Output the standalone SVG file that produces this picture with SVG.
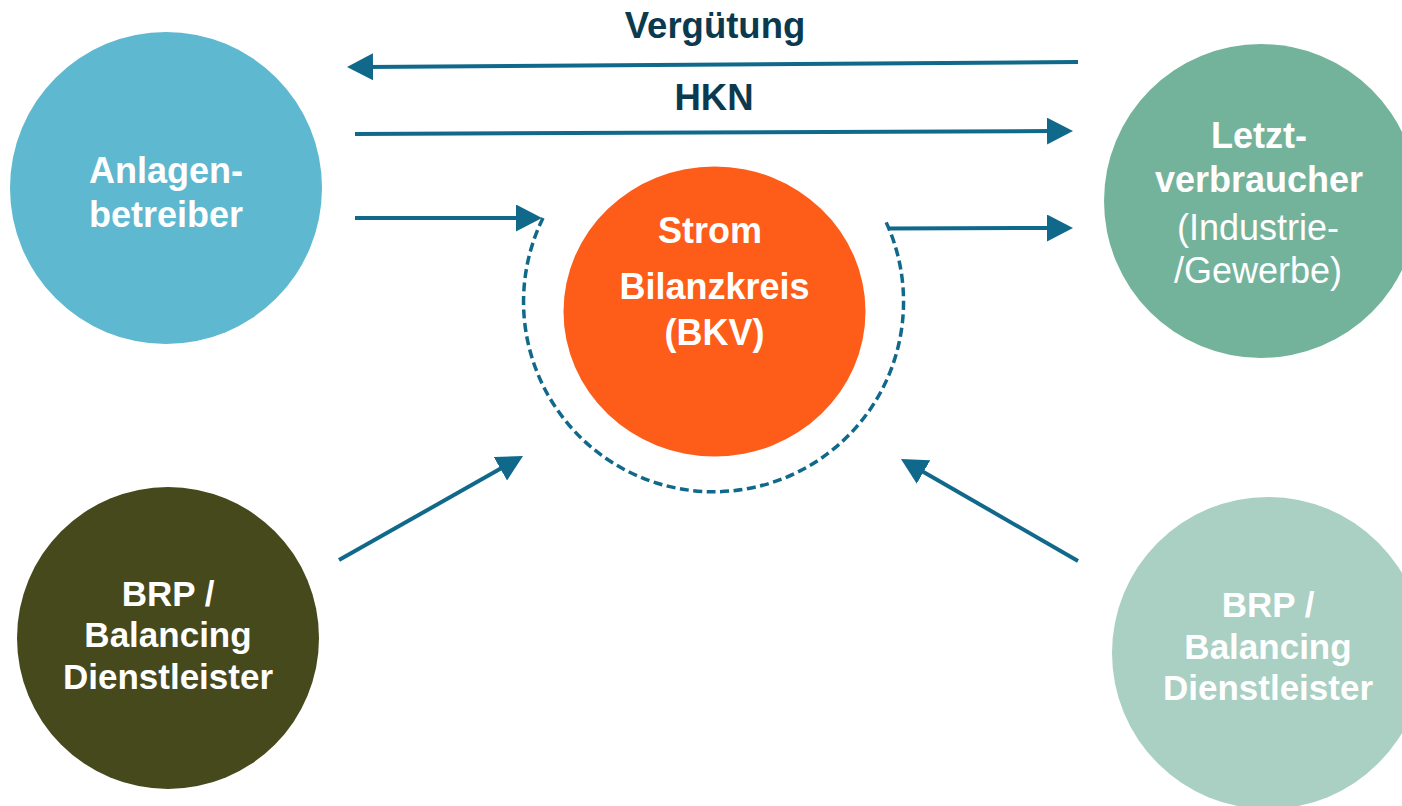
<svg xmlns="http://www.w3.org/2000/svg" width="1402" height="806" viewBox="0 0 1402 806">
  <style>
    .lbl { font-family: "Liberation Sans", Arial, sans-serif; font-size: 36px; fill: #ffffff; text-anchor: middle; }
    .b { font-weight: bold; }
    .sm { font-size: 35px; }
    .top { font-family: "Liberation Sans", Arial, sans-serif; font-size: 36.5px; font-weight: bold; fill: #0b3a4e; text-anchor: middle; }
    .arr { stroke: #10698a; stroke-width: 4; fill: none; marker-end: url(#head); }
  </style>
  <defs>
    <marker id="head" markerUnits="userSpaceOnUse" markerWidth="26" markerHeight="27" refX="6" refY="13.5" orient="auto" viewBox="0 0 26 27">
      <path d="M0,0 L26,13.5 L0,27 Z" fill="#10698a"/>
    </marker>
  </defs>
  <rect width="1402" height="806" fill="#ffffff"/>

  <g id="anlagenbetreiber">
    <circle cx="166" cy="188" r="156" fill="#5eb8cf"/>
    <text class="lbl b" x="166" y="183">Anlagen-</text>
    <text class="lbl b" x="166" y="227">betreiber</text>
  </g>

  <g id="letztverbraucher">
    <circle cx="1261" cy="201" r="157" fill="#74b39b"/>
    <text class="lbl b" x="1259" y="148">Letzt-</text>
    <text class="lbl b" x="1259" y="192">verbraucher</text>
    <text class="lbl" x="1258" y="240">(Industrie-</text>
    <text class="lbl" x="1258" y="283">/Gewerbe)</text>
  </g>

  <g id="strom-bilanzkreis">
    <ellipse cx="714.5" cy="311.5" rx="151" ry="145" fill="#fd5c19"/>
    <text class="lbl b" x="710" y="243">Strom</text>
    <text class="lbl b" x="714.5" y="299">Bilanzkreis</text>
    <text class="lbl b" x="714.5" y="345">(BKV)</text>
  </g>

  <g id="brp-left">
    <circle cx="168" cy="638" r="151" fill="#45491c"/>
    <text class="lbl b sm" x="168" y="606">BRP /</text>
    <text class="lbl b sm" x="168" y="647">Balancing</text>
    <text class="lbl b sm" x="168" y="689">Dienstleister</text>
  </g>

  <g id="brp-right">
    <circle cx="1268" cy="653" r="156" fill="#a9d0c3"/>
    <text class="lbl b sm" x="1268" y="617">BRP /</text>
    <text class="lbl b sm" x="1268" y="659">Balancing</text>
    <text class="lbl b sm" x="1268" y="700">Dienstleister</text>
  </g>

  <g id="connectors">
    <path d="M543,218 A190,190 0 1 0 886,222" fill="none" stroke="#10698a" stroke-width="3.5" stroke-dasharray="9,4.5"/>
    <line class="arr" x1="1078" y1="62" x2="367" y2="66.9"/>
    <line class="arr" x1="355" y1="134" x2="1053" y2="131.1"/>
    <line class="arr" x1="355" y1="218" x2="522" y2="218"/>
    <line class="arr" x1="888" y1="228.5" x2="1053" y2="228"/>
    <line class="arr" x1="339" y1="560" x2="505.6" y2="465.8"/>
    <line class="arr" x1="1078" y1="561" x2="918.3" y2="469"/>
    <text class="top" x="715" y="38">Vergütung</text>
    <text class="top" x="714" y="110">HKN</text>
  </g>
</svg>
